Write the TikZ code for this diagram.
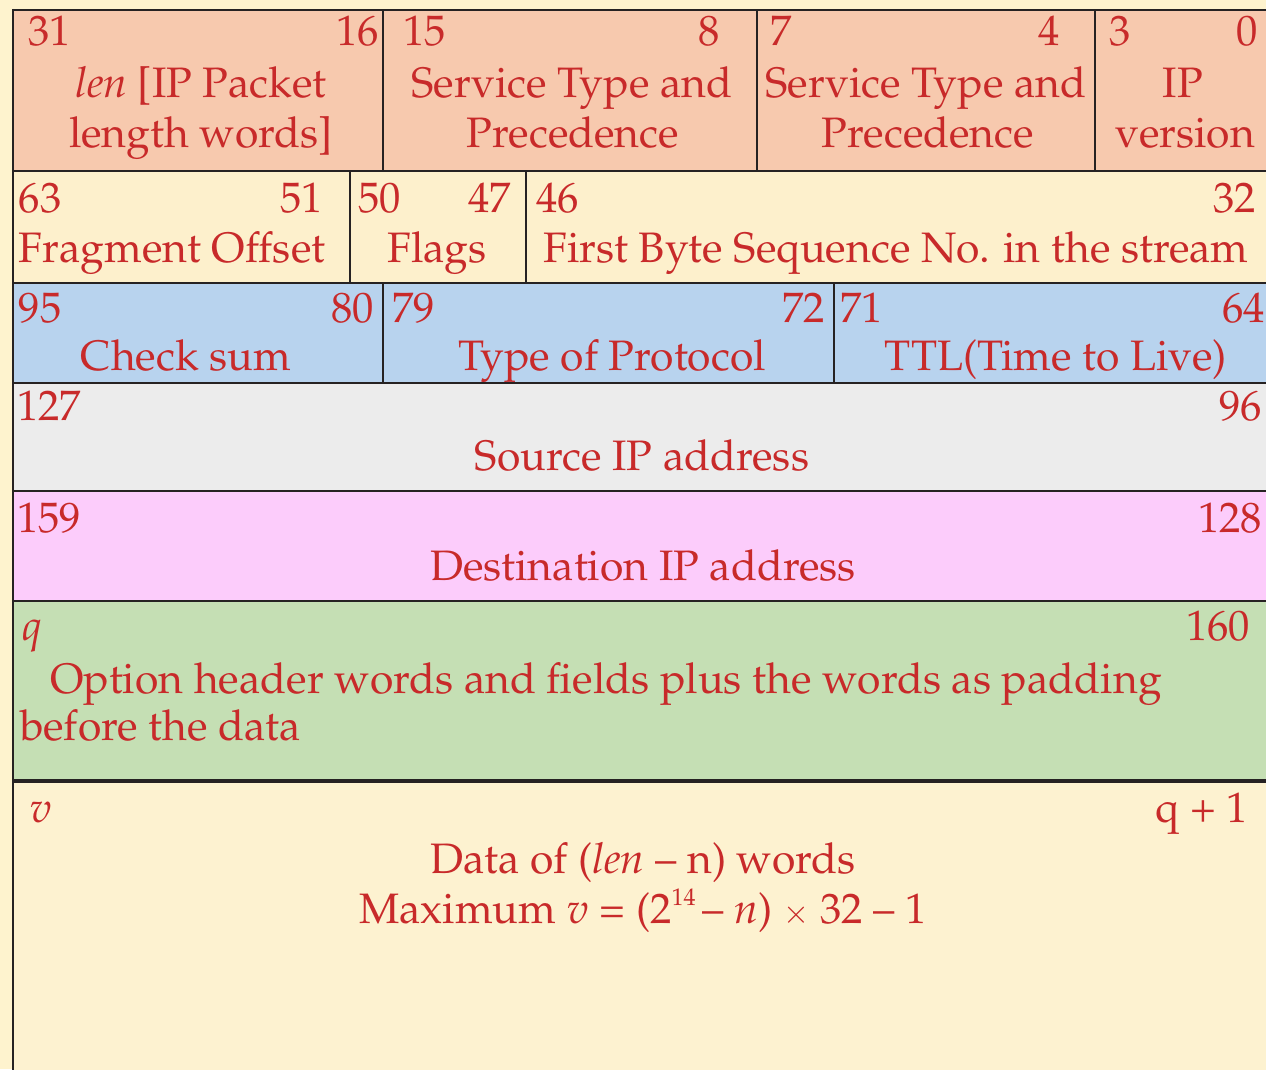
\documentclass[tikz,border=0pt]{standalone}
\usepackage[T1]{fontenc}
\usepackage{mathpazo}
\definecolor{pagebg}{RGB}{254,243,206}
\definecolor{salmon}{RGB}{247,201,174}
\definecolor{creamrow}{RGB}{253,240,204}
\definecolor{bluerow}{RGB}{184,211,238}
\definecolor{grayrow}{RGB}{236,236,236}
\definecolor{pinkrow}{RGB}{252,204,251}
\definecolor{greenrow}{RGB}{197,223,180}
\definecolor{creamdata}{RGB}{253,242,208}
\definecolor{txtred}{RGB}{200,42,42}
\definecolor{linec}{RGB}{38,34,34}
\begin{document}
\begin{tikzpicture}[x=1pt,y=-1pt,
  lbl/.style={inner sep=0pt, outer sep=0pt, text=txtred, font=\fontsize{42.6}{50}\selectfont},
  cellline/.style={draw=linec, line width=2.5pt},
  thickline/.style={draw=linec, line width=3.5pt}]
\useasboundingbox (0,0) rectangle (1266,1069);
\clip (0,0) rectangle (1266,1069);
\fill[pagebg] (0,0) rectangle (1266,1069);
% row fills
\fill[salmon] (13,10) rectangle (1280,171);
\fill[creamrow] (13,171) rectangle (1280,283);
\fill[bluerow] (13,283) rectangle (1280,383);
\fill[grayrow] (13,383) rectangle (1280,491);
\fill[pinkrow] (13,491) rectangle (1280,601);
\fill[greenrow] (13,601) rectangle (1280,781);
\fill[creamdata] (13,781) rectangle (1280,1090);
% horizontal lines
\draw[cellline] (1280,10) -- (13,10);
\draw[cellline] (13,171) -- (1280,171);
\draw[cellline] (13,283) -- (1280,283);
\draw[cellline] (13,383) -- (1280,383);
\draw[cellline] (13,491) -- (1280,491);
\draw[cellline] (13,601) -- (1280,601);
\draw[thickline] (13,781) -- (1280,781);
% left border
\draw[cellline] (13,8.75) -- (13,1090);
% vertical dividers
\draw[cellline] (383,10) -- (383,171);
\draw[cellline] (757,10) -- (757,171);
\draw[cellline] (1095,10) -- (1095,171);
\draw[cellline] (350,171) -- (350,283);
\draw[cellline] (526,171) -- (526,283);
\draw[cellline] (383,283) -- (383,383);
\draw[cellline] (834,283) -- (834,383);
% row 1
\node[lbl, anchor=base west] (a31) at (28,45) {31};
\node[lbl, anchor=base east] (a16) at (379,45) {16};
\node[lbl, anchor=base] (alen1) at (201,97) {\textit{len} [IP Packet};
\node[lbl, anchor=base] (alen2) at (201,147) {length words]};
\node[lbl, anchor=base west] (a15) at (403,45) {15};
\node[lbl, anchor=base east] (a8) at (720,45) {8};
\node[lbl, anchor=base] (asv1) at (572,97) {Service Type and};
\node[lbl, anchor=base] (asv1b) at (573,147) {Precedence};
\node[lbl, anchor=base west] (a7) at (770,45) {7};
\node[lbl, anchor=base east] (a4) at (1060,45) {4};
\node[lbl, anchor=base] (asv2) at (926,97) {Service Type and};
\node[lbl, anchor=base] (asv2b) at (928,147) {Precedence};
\node[lbl, anchor=base west] (a3) at (1109,45) {3};
\node[lbl, anchor=base east] (a0) at (1258,45) {0};
\node[lbl, anchor=base] (aip) at (1183,97) {IP};
\node[lbl, anchor=base] (aver) at (1185,147) {version};
% row 2
\node[lbl, anchor=base west] (b63) at (19,212) {63};
\node[lbl, anchor=base east] (b51) at (323,212) {51};
\node[lbl, anchor=base west] (bfrag) at (19,262) {Fragment Offset};
\node[lbl, anchor=base west] (b50) at (358,212) {50};
\node[lbl, anchor=base east] (b47) at (511,212) {47};
\node[lbl, anchor=base] (bflags) at (437,262) {Flags};
\node[lbl, anchor=base west] (b46) at (536,212) {46};
\node[lbl, anchor=base east] (b32) at (1256,212) {32};
\node[lbl, anchor=base] (bfirst) at (896,262) {First Byte Sequence No. in the stream};
% row 3
\node[lbl, anchor=base west] (c95) at (19,322) {95};
\node[lbl, anchor=base east] (c80) at (374,322) {80};
\node[lbl, anchor=base] (ccheck) at (186,370) {Check sum};
\node[lbl, anchor=base west] (c79) at (392,322) {79};
\node[lbl, anchor=base east] (c72) at (825,322) {72};
\node[lbl, anchor=base] (ctype) at (612,370) {Type of Protocol};
\node[lbl, anchor=base west] (c71) at (840,322) {71};
\node[lbl, anchor=base east] (c64) at (1265,322) {64};
\node[lbl, anchor=base] (cttl) at (1056,370) {TTL(Time to Live)};
% row 4
\node[lbl, anchor=base west] (d127) at (17,420) {127};
\node[lbl, anchor=base east] (d96) at (1262,420) {96};
\node[lbl, anchor=base] (dsrc) at (642,470) {Source IP address};
% row 5
\node[lbl, anchor=base west] (e159) at (17,532) {159};
\node[lbl, anchor=base east] (e128) at (1262,532) {128};
\node[lbl, anchor=base] (edst) at (643,580) {Destination IP address};
% row 6
\node[lbl, anchor=base west] (fq) at (22,640) {\textit{q}};
\node[lbl, anchor=base east] (f160) at (1250,640) {160};
\node[lbl, anchor=base west] (fopt1) at (50,693) {Option header words and fields plus the words as padding};
\node[lbl, anchor=base west] (fopt2) at (20,740) {before the data};
% row 7
\node[lbl, anchor=base west] (gv) at (30,822) {$v$};
\node[lbl, anchor=base east] (gq1) at (1248,822) {q + 1};
\node[lbl, align=center, anchor=base] (gdata) at (643,923)
  {Data of (\textit{len} -- n) words\\Maximum $v$ = (2\raisebox{0.42em}{\fontsize{24}{24}\selectfont 14}\,-- \textit{n}) {\fontsize{32}{32}\selectfont$\times$} 32 -- 1};
\end{tikzpicture}
\end{document}
